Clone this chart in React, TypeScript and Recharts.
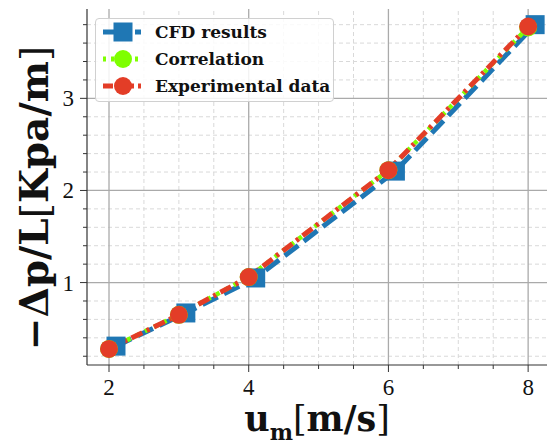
import { LineChart, Line, XAxis, YAxis, ReferenceLine, Legend, Label } from 'recharts';

// velocity (m/s) and pressure drop per length (kPa/m)
const velocities = [2, 3, 4, 6, 8];
const cfdVelocities = [2.1, 3.1, 4.1, 6.1, 8.1];
const cfdValues = [0.31, 0.67, 1.05, 2.21, 3.8];
const correlationValues = [0.28, 0.65, 1.06, 2.22, 3.77];
const experimentalValues = [0.28, 0.65, 1.06, 2.22, 3.78];

const xMajorTicks = [2, 4, 6, 8];
const xMinorTicks = [2.5, 3, 3.5, 4.5, 5, 5.5, 6.5, 7, 7.5];
const yMajorTicks = [1, 2, 3];
const yMinorTicks = [0.2, 0.4, 0.6, 0.8, 1.2, 1.4, 1.6, 1.8, 2.2, 2.4, 2.6, 2.8, 3.2, 3.4, 3.6, 3.8];

const BLUE = '#1f77b4';
const GREEN = '#7fff00';
const RED = '#e33d27';
const SERIF = '"Liberation Serif", serif';
const BOLD_SERIF = '"DejaVu Serif", serif';

const cfdData = cfdVelocities.map((x, i) => ({ x, y: cfdValues[i] }));
const corrData = velocities.map((x, i) => ({ x, y: correlationValues[i] }));
const expData = velocities.map((x, i) => ({ x, y: experimentalValues[i] }));

const legendItems = [
  { name: 'CFD results', color: BLUE, dash: '12 4', shape: 'square' },
  { name: 'Correlation', color: GREEN, dash: '3 5', shape: 'circle' },
  { name: 'Experimental data', color: RED, dash: '10 4 3 4', shape: 'circle' },
];

function XTick(props: any) {
  const { x, y, payload } = props;
  const major = xMajorTicks.includes(payload.value);
  return (
    <g>
      <line x1={x} x2={x} y1={y} y2={y + (major ? 7 : 4)} stroke="#333" strokeWidth={1} />
      {major && (
        <text x={x} y={y + 30} textAnchor="middle" fontSize={23} fontFamily={SERIF} fill="#111">
          {payload.value}
        </text>
      )}
    </g>
  );
}

function YTick(props: any) {
  const { x, y, payload } = props;
  const major = yMajorTicks.includes(payload.value);
  return (
    <g>
      <line x1={x - (major ? 7 : 4)} x2={x} y1={y} y2={y} stroke="#333" strokeWidth={1} />
      {major && (
        <text x={x - 13} y={y + 8} textAnchor="end" fontSize={23} fontFamily={SERIF} fill="#111">
          {payload.value}
        </text>
      )}
    </g>
  );
}

const squareDot = (p: any) => (
  <rect key={`sq-${p.index}`} x={p.cx - 9.5} y={p.cy - 9.5} width={19} height={19} fill={BLUE} />
);
const greenDot = (p: any) => <circle key={`g-${p.index}`} cx={p.cx} cy={p.cy} r={9} fill={GREEN} />;
const redDot = (p: any) => <circle key={`r-${p.index}`} cx={p.cx} cy={p.cy} r={9} fill={RED} />;

function LegendBox() {
  return (
    <div
      style={{
        width: 239,
        height: 84,
        background: 'rgba(255,255,255,0.85)',
        border: '1px solid #d0d0d0',
        borderRadius: 4,
        boxSizing: 'border-box',
      }}
    >
      {legendItems.map((it) => (
        <div key={it.name} style={{ display: 'flex', alignItems: 'center', height: 26.7 }}>
          <svg width={59} height={24} style={{ flex: 'none' }}>
            <line x1={7} x2={45} y1={12} y2={12} stroke={it.color} strokeWidth={5} strokeDasharray={it.dash} />
            {it.shape === 'square' ? (
              <rect x={17.5} y={2.5} width={19} height={19} fill={it.color} />
            ) : (
              <circle cx={27} cy={12} r={9} fill={it.color} />
            )}
          </svg>
          <span style={{ fontFamily: BOLD_SERIF, fontWeight: 'bold', fontSize: 17, color: '#111', whiteSpace: 'nowrap' }}>
            {it.name}
          </span>
        </div>
      ))}
    </div>
  );
}

function XTitle(props: any) {
  const { viewBox } = props;
  const cx = viewBox.x + viewBox.width / 2;
  return (
    <text x={cx} y={viewBox.y + 66} textAnchor="middle" fontFamily={BOLD_SERIF} fontWeight="bold" fontSize={35} fill="#111">
      u<tspan fontSize={22} dy={9}>m</tspan>
      <tspan dy={-9} fontWeight="normal">[</tspan>m/s<tspan fontWeight="normal">]</tspan>
    </text>
  );
}

function YTitle(props: any) {
  const { viewBox } = props;
  const cy = viewBox.y + viewBox.height / 2 + 11;
  return (
    <text
      x={48}
      y={cy}
      transform={`rotate(-90, 48, ${cy})`}
      textAnchor="middle"
      fontFamily={BOLD_SERIF}
      fontWeight="bold"
      fontSize={39}
      fill="#111"
    >
      −Δp/L<tspan fontWeight="normal">[</tspan>Kpa/m<tspan fontWeight="normal">]</tspan>
    </text>
  );
}

export default function App() {
  return (
    <div style={{ position: 'fixed', left: 0, top: 0, background: '#fff' }}>
      <LineChart width={547} height={446} margin={{ top: 9, right: 0, left: 0, bottom: 0 }}>
        <XAxis
          dataKey="x"
          type="number"
          domain={[1.685, 8.27]}
          allowDataOverflow
          ticks={[...xMajorTicks, ...xMinorTicks].sort((a, b) => a - b)}
          tick={<XTick />}
          tickLine={false}
          tickSize={0}
          tickMargin={0}
          height={81}
          axisLine={{ stroke: '#333', strokeWidth: 1.2 }}
          interval={0}
        >
          <Label content={<XTitle />} />
        </XAxis>
        <XAxis xAxisId="top" orientation="top" type="number" domain={[0, 1]} height={0} tick={false} tickLine={false} axisLine={{ stroke: '#333', strokeWidth: 1.2 }} />
        <YAxis
          type="number"
          domain={[0.105, 3.97]}
          allowDataOverflow
          ticks={[...yMajorTicks, ...yMinorTicks].sort((a, b) => a - b)}
          tick={<YTick />}
          tickLine={false}
          tickSize={0}
          tickMargin={0}
          width={87}
          axisLine={{ stroke: '#333', strokeWidth: 1.2 }}
          interval={0}
        >
          <Label content={<YTitle />} />
        </YAxis>
        {xMinorTicks.map((v) => (
          <ReferenceLine key={`xm-${v}`} x={v} stroke="#d9d9d9" strokeDasharray="4 3" strokeWidth={1} />
        ))}
        {yMinorTicks.map((v) => (
          <ReferenceLine key={`ym-${v}`} y={v} stroke="#d9d9d9" strokeDasharray="4 3" strokeWidth={1} />
        ))}
        {xMajorTicks.map((v) => (
          <ReferenceLine key={`xM-${v}`} x={v} stroke="#aaaaaa" strokeWidth={1.3} />
        ))}
        {yMajorTicks.map((v) => (
          <ReferenceLine key={`yM-${v}`} y={v} stroke="#aaaaaa" strokeWidth={1.3} />
        ))}
        <Line
          data={cfdData}
          dataKey="y"
          type="linear"
          stroke={BLUE}
          strokeWidth={5}
          strokeDasharray="17 7"
          dot={squareDot}
          activeDot={false}
          isAnimationActive={false}
          name="CFD results"
        />
        <Line
          data={corrData}
          dataKey="y"
          type="linear"
          stroke={GREEN}
          strokeWidth={4.5}
          strokeDasharray="4 6"
          dot={greenDot}
          activeDot={false}
          isAnimationActive={false}
          name="Correlation"
        />
        <Line
          data={expData}
          dataKey="y"
          type="linear"
          stroke={RED}
          strokeWidth={5}
          strokeDasharray="12 5 3 5"
          dot={redDot}
          activeDot={false}
          isAnimationActive={false}
          name="Experimental data"
        />
        <Legend
          layout="horizontal"
          verticalAlign="middle"
          content={<LegendBox />}
          wrapperStyle={{ left: 95, top: 18, width: 239 }}
        />
      </LineChart>
    </div>
  );
}
